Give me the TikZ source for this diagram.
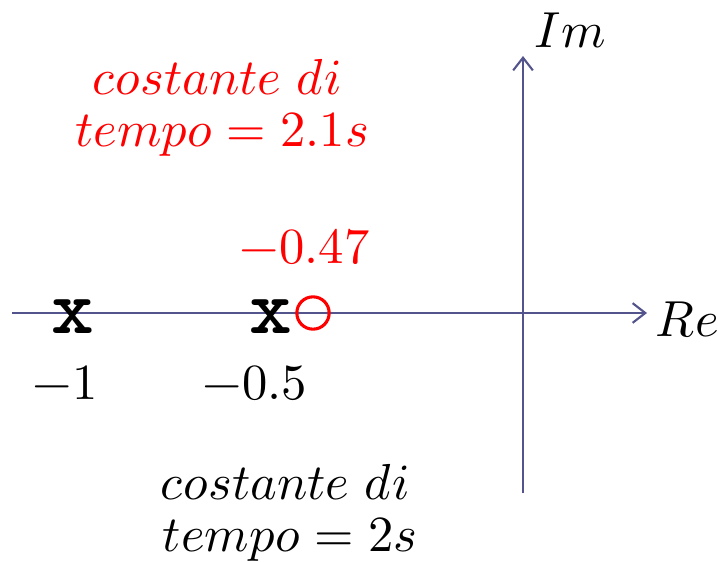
\documentclass[tikz,border=0pt]{standalone}
\usepackage{fontspec}
\usepackage{unicode-math}
\setmathfont{Latin Modern Math}
\usetikzlibrary{arrows.meta}
\definecolor{axiscol}{RGB}{84,84,140}

\begin{document}
\begin{tikzpicture}[x=0.025cm,y=0.025cm,
        axis/.style={draw=axiscol, line width=1.5pt, -{Straight Barb[length=9pt,width=14pt]}},
        lbl/.style={font=\fontsize{36}{43}\selectfont, inner sep=0pt},
        pole/.style={font=\fontsize{58}{64}\selectfont\ttfamily\bfseries, inner sep=0pt, yscale=0.95},
        zero/.style={circle, draw=red, line width=2.2pt, inner sep=0pt}
    ]
        \useasboundingbox (0,0) rectangle (718,561);
        % axes
        \coordinate (reA) at (12,248);
        \coordinate (reB) at (647,248);
        \coordinate (imA) at (523,68);
        \coordinate (imB) at (523,505);
        \draw[axis] (reA) -- (reB);
        \draw[axis] (imA) -- (imB);
        \node[lbl] (re) at (687,241) {$Re$};
        \node[lbl] (im) at (570,531) {$Im$};

        % poles and zero
        \node[pole] (p1) at (73,244) {x};
        \node[pole] (p2) at (271,244) {x};
        \node[zero, minimum size=23pt] (z1) at (313,248) {};
        \node[lbl] (l1) at (65,178) {$-1$};
        \node[lbl] (l2) at (255,178) {$-0.5$};
        \node[lbl, text=red] (l3) at (305,314) {$-0.47$};

        % time constants
        \node[lbl, text=red] (tz1) at (217,484) {$costante\ di$};
        \node[lbl, text=red] (tz2) at (222,426) {$tempo=2.1s$};
        \node[lbl] (tp1) at (285,79) {$costante\ di$};
        \node[lbl] (tp2) at (290,21) {$tempo=2s$};
    \end{tikzpicture}
\end{document}
